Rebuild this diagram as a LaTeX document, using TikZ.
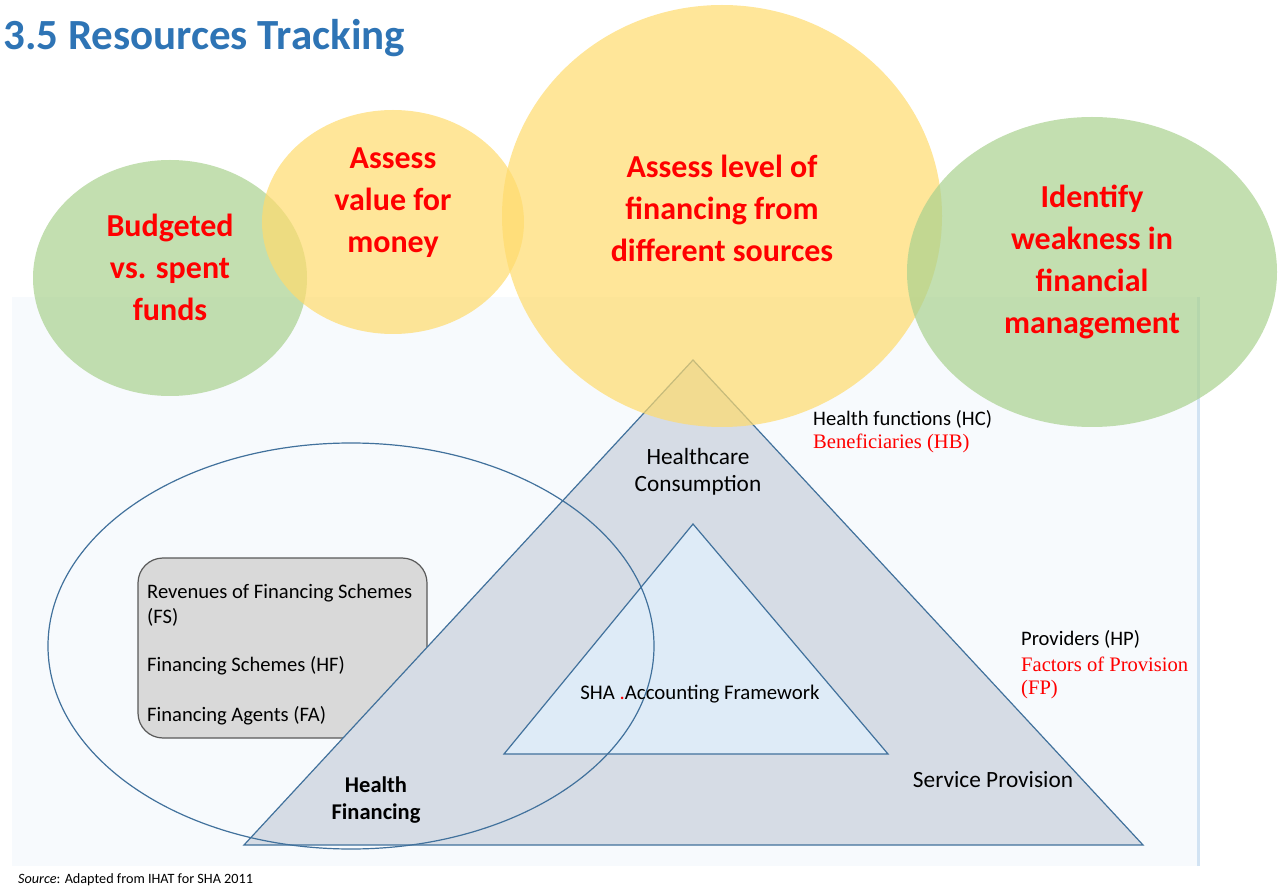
\documentclass[tikz,border=0pt]{standalone}
\usepackage{fontspec}
\setmainfont{Carlito}
\newfontfamily\timesfont{Liberation Serif}
\definecolor{titleblue}{HTML}{2E74B5}
\definecolor{goalgreen}{HTML}{A9D18E}
\definecolor{goalyellow}{HTML}{FFDB6D}
\definecolor{panelfill}{HTML}{F7FAFD}
\definecolor{panelline}{HTML}{D2E3F3}
\definecolor{triline}{HTML}{41719C}
\definecolor{trifill}{HTML}{D6DCE5}
\definecolor{innerfill}{HTML}{DEEBF7}
\definecolor{boxfill}{HTML}{D9D9D9}
\definecolor{boxline}{HTML}{595959}
\begin{document}
\begin{tikzpicture}[x=1pt,y=-1pt,
    bubble/.style={fill opacity=0.7},
    goal/.style={text=red,align=center,font=\fontsize{32}{42}\selectfont\bfseries},
    lbl/.style={anchor=west,inner sep=0pt,font=\fontsize{20.6}{25}\selectfont},
    redlbl/.style={anchor=west,inner sep=0pt,text=red,font=\timesfont\fontsize{20.6}{25}\selectfont},
    midlbl/.style={align=center,font=\fontsize{23.3}{27}\selectfont}]
  \useasboundingbox (0,0) rectangle (1280,890);
  % background panel
  \fill[panelfill] (12,297) rectangle (1198,866);
  \draw[panelline,line width=3pt] (1198,297) -- (1198,866);
  % accounting framework
  \draw[boxline,fill=boxfill,line width=1.2pt,rounded corners=25pt] (138,558) rectangle (427,738);
  \draw[triline,fill=trifill,line width=1.2pt] (693,360) -- (1143,845) -- (244,845) -- cycle;
  \draw[triline,fill=innerfill,line width=1.2pt] (693,524) -- (888,754) -- (504,754) -- cycle;
  \draw[triline,line width=1.2pt] (351,646) ellipse [x radius=303pt,y radius=203pt];
  % goals
  \begin{scope}[bubble]
    \fill[goalgreen] (170,278) ellipse [x radius=137pt,y radius=118pt];
    \fill[goalyellow] (393,222) ellipse [x radius=131pt,y radius=112pt];
    \fill[goalyellow] (722,216) ellipse [x radius=220pt,y radius=211pt];
    \fill[goalgreen] (1092,272) ellipse [x radius=185pt,y radius=155pt];
  \end{scope}
  \node[goal] (budget) at (170,267) {Budgeted\\vs. spent\\funds};
  \node[goal] (value) at (393,203) {Assess\\value for\\money};
  \node[goal] (level) at (722,208) {Assess level of\\financing from\\different sources};
  \node[goal] (weak) at (1092,262) {Identify\\weakness in\\financial\\management};
  % texts
  \node[anchor=west,inner sep=0pt,text=titleblue,font=\fontsize{43}{50}\selectfont\bfseries] (title) at (3,38) {3.5 Resources Tracking};
  \node[lbl,align=left] (fs) at (147,605) {Revenues of Financing Schemes\\(FS)};
  \node[lbl] (hf) at (147,666) {Financing Schemes (HF)};
  \node[lbl] (fa) at (147,716) {Financing Agents (FA)};
  \node[midlbl] (cons) at (698,472) {Healthcare\\Consumption};
  \node[midlbl,font=\fontsize{20.8}{26}\selectfont] (sha) at (700,694) {SHA \textcolor{red}{.}Accounting Framework};
  \node[midlbl,font=\fontsize{22.5}{27}\selectfont\bfseries] (fin) at (376,800) {Health\\Financing};
  \node[midlbl] (prov) at (993,780) {Service Provision};
  \node[lbl] (hc) at (813,419) {Health functions (HC)};
  \node[redlbl] (hb) at (813,443) {Beneficiaries (HB)};
  \node[lbl] (hp) at (1021,639) {Providers (HP)};
  \node[redlbl] (fp) at (1021,664) {Factors of Provision};
  \node[redlbl] (fp2) at (1021,690) {(FP)};
  \node[lbl,font=\fontsize{14.2}{17}\selectfont] (src) at (18,880) {\textit{Source}: Adapted from IHAT for SHA 2011};
\end{tikzpicture}
\end{document}
